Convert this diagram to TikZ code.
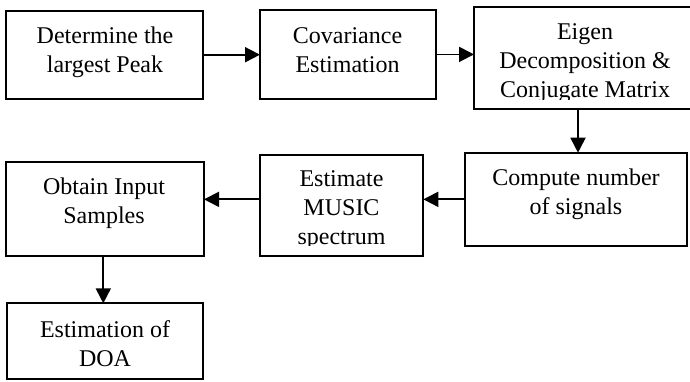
\documentclass[tikz,border=0pt]{standalone}
\usepackage{fontspec}
\setmainfont{Liberation Serif}
\usetikzlibrary{arrows.meta}
\begin{document}
\begin{tikzpicture}[x=1pt,y=-1pt,
  box/.style={draw=black, line width=2pt, inner sep=0pt, outer sep=0pt},
  boxtext/.style={anchor=base, inner sep=0pt, font=\fontsize{24}{29}\selectfont},
  flow/.style={draw=black, line width=1.8pt, -{Triangle[length=15pt,width=15pt]}}]
\useasboundingbox (0,0) rectangle (690,381);
\clip (0,0) rectangle (690,381);

% process boxes
\node[box, minimum width=197.3pt, minimum height=88pt]   (b1) at (104.7,54.7) {};
\node[box, minimum width=176pt,   minimum height=88.7pt] (b2) at (348,54.4) {};
\node[box, minimum width=221pt,   minimum height=102.5pt] (b3) at (584.5,57.75) {};
\node[box, minimum width=221.4pt, minimum height=93.3pt] (b4) at (576,199.35) {};
\node[box, minimum width=163.3pt, minimum height=101pt]  (b5) at (341.65,205.5) {};
\node[box, minimum width=198pt,   minimum height=94.3pt] (b6) at (105,208.85) {};
\node[box, minimum width=196.6pt, minimum height=76pt]   (b7) at (105,341.3) {};

% box captions
\node[boxtext] (t1) at (105,43.5) {\begin{tabular}[t]{@{}c@{}}Determine the\\largest Peak\end{tabular}};
\node[boxtext] (t2) at (347.5,43.5) {\begin{tabular}[t]{@{}c@{}}Covariance\\Estimation\end{tabular}};
\begin{scope}
  \clip (470,0) rectangle (690,99.5);
  \node[boxtext] (t3) at (585,39) {\begin{tabular}[t]{@{}c@{}}Eigen\\Decomposition \&\\Conjugate Matrix\end{tabular}};
\end{scope}
\node[boxtext] (t4) at (576,185.5) {\begin{tabular}[t]{@{}c@{}}Compute number\\of signals\end{tabular}};
\begin{scope}
  \clip (262,150) rectangle (422,245.5);
  \node[boxtext] (t5) at (341.5,186.5) {\begin{tabular}[t]{@{}c@{}}Estimate\\MUSIC\\spectrum\end{tabular}};
\end{scope}
\node[boxtext] (t6) at (104,194) {\begin{tabular}[t]{@{}c@{}}Obtain Input\\Samples\end{tabular}};
\node[boxtext] (t7) at (105,337) {\begin{tabular}[t]{@{}c@{}}Estimation of\\DOA\end{tabular}};

% connectors
\draw[flow] (b1.east) -- (b1.east -| b2.west);
\draw[flow] (b2.east) -- (b2.east -| b3.west);
\draw[flow] ([xshift=2pt]b4.north |- b3.south) -- ([xshift=2pt]b4.north);
\draw[flow] (b4.west) -- (b4.west -| b5.east);
\draw[flow] (b5.west |- b4.west) -- (b6.east |- b4.west);
\draw[flow] ([xshift=-1.7pt]b7.north |- b6.south) -- ([xshift=-1.7pt]b7.north);
\end{tikzpicture}
\end{document}
